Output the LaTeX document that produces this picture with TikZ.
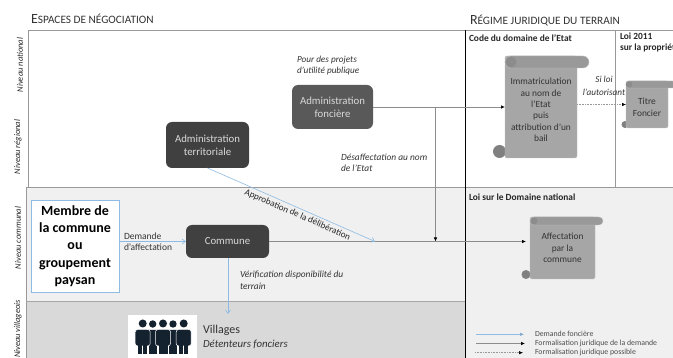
\documentclass[tikz,border=0pt]{standalone}
\usepackage{fontspec}
\setmainfont{Carlito}
\usetikzlibrary{arrows.meta}
\usetikzlibrary{shapes.misc}
\definecolor{bluearrow}{HTML}{8DBBE3}
\definecolor{navy}{HTML}{14212E}
\tikzset{
  txt/.style={inner sep=0pt, outer sep=0pt, text=black!80, font=\fontsize{9.3}{11}\selectfont, align=left},
  levellabel/.style={txt, rotate=90, font=\fontsize{8.5}{9}\selectfont\itshape, text=black!85},
  section/.style={txt, font=\fontsize{9.4}{11}\selectfont\bfseries, text=black!85},
  legendtxt/.style={txt, font=\fontsize{7.8}{9}\selectfont, text=black!70},
  actor/.style={rounded corners=6pt, text=white!85!black, inner sep=0pt, outer sep=0pt, align=center, font=\fontsize{10.8}{13}\selectfont},
  scrollbody/.style={fill=black!35, draw=black!25, rounded corners=2pt, inner sep=0pt, outer sep=0pt, align=center, text=black!80, font=\fontsize{9.4}{11.3}\selectfont},
  scrolltop/.style={rounded rectangle, fill=black!40, draw=black!25, inner sep=0pt, outer sep=0pt},
  curl/.style={circle, fill=black!50, inner sep=0pt, outer sep=0pt},
  bluearr/.style={draw=bluearrow, line width=0.6pt, -{Straight Barb[length=3.5pt,width=5pt]}},
  legalarr/.style={draw=black!45, line width=0.7pt, -{Latex[black,length=4pt,width=3.5pt]}},
  maybearr/.style={draw=black!40, line width=0.6pt, densely dotted, -{Latex[black,length=4pt,width=3.5pt]}},
}
\begin{document}
\begin{tikzpicture}[x=1pt,y=-1pt]
\useasboundingbox (0,0) rectangle (673,358);
\begin{scope}
\clip (0,0) rectangle (673,358);
% bands
\fill[black!6] (26,187) rectangle (465,302);
\fill[black!15] (26,302) rectangle (465,358);
\fill[black!6] (465,187) rectangle (673,358);
\draw[black!40, line width=0.8pt] (28,187) -- (28,30) -- (673,30);
\draw[black!40, line width=0.8pt] (26,358) -- (26,187) -- (673,187);
\draw[black!35, line width=1pt] (26,302) -- (465,302);
\draw[black!40, line width=0.7pt] (615,30) -- (615,187);
\draw[black, line width=1pt] (465,30) -- (465,358);

% titles
\node[txt, anchor=west, font=\fontsize{14}{16}\selectfont] (esp) at (31,19) {E{\fontsize{11.3}{16}\selectfont SPACES DE NÉGOCIATION}};
\node[txt, anchor=west, font=\fontsize{14}{16}\selectfont] (reg) at (470,21) {R{\fontsize{11.3}{16}\selectfont ÉGIME JURIDIQUE DU TERRAIN}};
\node[levellabel] (nat) at (20,65) {Niveau national};
\node[levellabel] (rgn) at (18,147) {Niveau régional};
\node[levellabel] (com) at (18,238) {Niveau communal};
\node[levellabel, anchor=west] (vil) at (18,358) {Niveau villageois};
\node[section, anchor=west] (code) at (469,38) {Code du domaine de l’Etat};
\node[section, anchor=north west] (loi) at (620,33) {Loi 2011\\sur la propriété};
\node[section, anchor=west] (dom) at (469,197) {Loi sur le Domaine national};

% actors
\node[actor, fill=black!65, minimum width=81, minimum height=44] (fonc) at (332.5,107) {Administration\\foncière};
\node[actor, fill=black!75, minimum width=83, minimum height=46] (terr) at (207.5,145) {Administration\\territoriale};
\node[actor, fill=black!75, minimum width=83, minimum height=33] (comm) at (227.5,241.5) {Commune};
\node[draw=bluearrow, fill=white, line width=0.8pt, minimum width=88, minimum height=92, inner sep=0pt, outer sep=0pt, align=center, font=\fontsize{14}{17.2}\selectfont\bfseries] (memb) at (75,246) {Membre de\\la commune\\ou\\groupement\\paysan};

% scrolls
\node[curl, minimum size=13] (imbot) at (499.5,151.5) {};
\node[scrollbody, minimum width=72, minimum height=102] (imma) at (541,107) {\\[1pt]Immatriculation\\au nom de\\l’Etat\\puis\\attribution d’un\\bail};
\node[scrolltop, minimum width=84, minimum height=12] (imtop) at (547,62) {};
\node[curl, minimum size=11, fill=black!45] (imcurl) at (511,62) {};

\node[curl, minimum size=7] (tibot) at (625,124.5) {};
\node[scrollbody, minimum width=42, minimum height=47] (titr) at (647,104.5) {\\[1pt]Titre\\Foncier};
\node[scrolltop, minimum width=50, minimum height=7] (titop) at (651,84.5) {};
\node[curl, minimum size=6.5, fill=black!45] (ticurl) at (629,84.5) {};

\node[curl, minimum size=9] (afbot) at (526,274.5) {};
\node[scrollbody, minimum width=65, minimum height=62] (affe) at (562.5,248) {Affectation\\par la\\commune};
\node[scrolltop, minimum width=73, minimum height=8] (aftop) at (566.5,221) {};
\node[curl, minimum size=7, fill=black!45] (afcurl) at (534,221) {};

% free ends
\coordinate (appr) at (375,241.5);
\coordinate (join) at (435.5,241.5);
\coordinate (vtop) at (228,314);

% connectors
\draw[legalarr] (fonc.east) -- (imma.west);
\draw[legalarr] (fonc.east -| join) -- (join);
\draw[legalarr, shorten >=4pt] (comm.east) -- (comm.east -| affe.west);
\draw[maybearr] (imma.east |- titr.west) -- (titr.west);
\draw[bluearr] (terr.south) -- (appr);
\draw[bluearr] (memb.east |- comm.west) -- (comm.west);
\draw[bluearr] (comm.south -| vtop) -- (vtop);

% labels on connectors
\node[txt, anchor=west, font=\fontsize{9.2}{11}\selectfont\itshape] (pour) at (297,65.5) {Pour des projets\\d’utilité publique};
\node[txt, align=center, font=\fontsize{9.2}{13}\selectfont\itshape] (sil) at (604,85.5) {Si loi\\l’autorisant};
\node[txt, anchor=west, font=\fontsize{9.4}{11.5}\selectfont\itshape] (des) at (341,163) {Désaffectation au nom\\de l’Etat};
\node[txt, anchor=west, font=\fontsize{9.4}{11.5}\selectfont\itshape] (veri) at (240,280.5) {Vérification disponibilité du\\terrain};
\node[txt, anchor=west, font=\fontsize{9.5}{11.5}\selectfont] (dema) at (124,241.5) {Demande\\d’affectation};
\node[txt, rotate=-23.5, font=\fontsize{9.2}{10}\selectfont, text=black!85] (appl) at (297.5,215) {Approbation de la délibération};

% villages
\node[fill=white, minimum width=69, minimum height=43, inner sep=0pt, outer sep=0pt] (icon) at (162.5,336.5) {};
\foreach \px in {152.7,173}{
  \fill[navy] (\px,324) circle (3.7);
  \fill[navy, rounded corners=2pt] (\px-6,330) rectangle (\px+6,345);
  \fill[navy] (\px-4,340) rectangle (\px+4,354);
}
\foreach \px in {142.7,163,183.7}{
  \fill[navy] (\px,323.5) circle (4);
  \draw[white, line width=0.5pt, fill=navy, rounded corners=2.5pt] (\px-7.5,329.5) rectangle (\px+7.5,346);
  \fill[navy] (\px-4.5,340) rectangle (\px-0.4,354);
  \fill[navy] (\px+0.4,340) rectangle (\px+4.5,354);
}
\node[txt, anchor=west, font=\fontsize{12}{14}\selectfont] (vill) at (203,330) {Villages};
\node[txt, anchor=west, font=\fontsize{10.8}{12}\selectfont\itshape] (deten) at (203,344) {Détenteurs fonciers};

% legend
\node[legendtxt, anchor=west] (leg1) at (535,334.3) {Demande foncière};
\node[legendtxt, anchor=west] (leg2) at (535,343.5) {Formalisation juridique de la demande};
\node[legendtxt, anchor=west] (leg3) at (535,352.7) {Formalisation juridique possible};
\coordinate (lg1a) at (476,334.3);
\coordinate (lg1b) at (524,334.3);
\coordinate (lg2a) at (476,343.5);
\coordinate (lg2b) at (525,343.5);
\coordinate (lg3a) at (475,352.7);
\coordinate (lg3b) at (523,352.7);
\draw[draw=bluearrow, line width=0.6pt, -{Latex[bluearrow!90!black,length=4pt,width=3.5pt]}] (lg1a) -- (lg1b);
\draw[legalarr] (lg2a) -- (lg2b);
\draw[maybearr] (lg3a) -- (lg3b);
\end{scope}
\end{tikzpicture}
\end{document}
